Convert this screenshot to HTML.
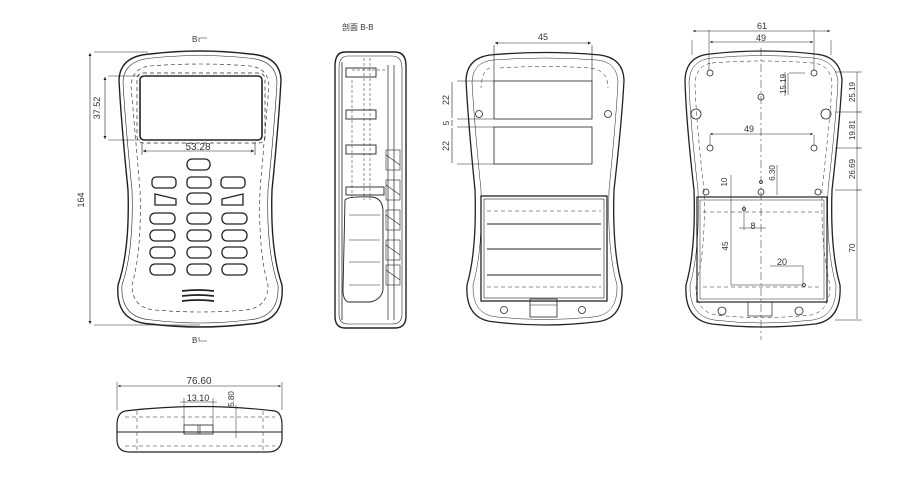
<!DOCTYPE html>
<html><head><meta charset="utf-8"><style>
html,body{margin:0;padding:0;background:#fff;width:900px;height:500px;overflow:hidden}
text{font-family:"Liberation Sans","Noto Sans CJK SC",sans-serif;fill:#333;stroke:none}
</style></head><body>
<svg width="900" height="500" viewBox="0 0 900 500" xmlns="http://www.w3.org/2000/svg" fill="none" stroke="#222" stroke-width="1">
<defs><marker id="a" viewBox="0 0 6 6" refX="6" refY="3" markerWidth="5" markerHeight="5" orient="auto-start-reverse"><path d="M0,0L6,3L0,6z" fill="#222" stroke="none"/></marker></defs>

<!-- FRONT VIEW -->
<path d="M150,54 Q200,48 250,54 Q280,56 281,80 Q279,120 272,190 Q270,250 282,285 Q285,322 250,324 Q200,330 150,324 Q115,322 118,285 Q130,250 128,190 Q121,120 119,80 Q120,56 150,54Z" stroke-width="1.4"/>
<path d="M152,58 Q200,53 248,58 Q276,60 277,82 Q275,120 268,190 Q266,250 278,285 Q280,318 248,320 Q200,326 152,320 Q120,318 122,285 Q134,250 132,190 Q125,120 123,82 Q124,60 152,58Z" stroke-width="0.6"/>
<path d="M150,66 Q200,62 250,66 Q268,68 269,86 Q266,120 260,190 Q258,250 268,285 Q268,308 245,310 Q200,314 155,310 Q132,308 132,285 Q142,250 140,190 Q134,120 131,86 Q132,68 150,66Z" stroke-width="0.6" stroke-dasharray="4,3"/>
<rect x="137" y="73" width="128" height="70" rx="6" stroke-dasharray="4,3" stroke-width="0.7"/>
<rect x="140" y="76" width="122" height="64" rx="4" stroke-width="1.6"/>
<g stroke-width="1.3">
<rect x="187" y="159" width="23" height="11" rx="5"/>
<rect x="152" y="177" width="24" height="11" rx="4"/><rect x="187" y="177" width="24" height="11" rx="4"/><rect x="221" y="177" width="24" height="11" rx="4"/>
<path d="M155,194 L176,199 L176,205 L155,205Z"/><rect x="187" y="193" width="24" height="11" rx="5"/><path d="M243,194 L222,199 L222,205 L243,205Z"/>
<rect x="150" y="213" width="25" height="11" rx="5"/><rect x="187" y="213" width="24" height="11" rx="5"/><rect x="222" y="213" width="25" height="11" rx="5"/>
<rect x="150" y="230" width="25" height="11" rx="5"/><rect x="187" y="230" width="24" height="11" rx="5"/><rect x="222" y="230" width="25" height="11" rx="5"/>
<rect x="150" y="247" width="25" height="11" rx="5"/><rect x="187" y="247" width="24" height="11" rx="5"/><rect x="222" y="247" width="25" height="11" rx="5"/>
<rect x="150" y="264" width="25" height="11" rx="5"/><rect x="187" y="264" width="24" height="11" rx="5"/><rect x="222" y="264" width="25" height="11" rx="5"/>
<path d="M182,291 Q198,289 214,291 M182,296 Q198,294 214,296 M182,301 Q198,299 214,301" stroke-width="1.8"/>
</g>
<g stroke-width="0.6">
<path d="M94,52 H148 M94,325 H200 M108,76 H140 M108,140 H140 M142,142 V155 M255,142 V155"/>
<path d="M90,53 V324" marker-start="url(#a)" marker-end="url(#a)"/>
<path d="M105,77 V139" marker-start="url(#a)" marker-end="url(#a)"/>
<path d="M143,151 H254" marker-start="url(#a)" marker-end="url(#a)"/>
</g>
<text x="84" y="200" font-size="9" transform="rotate(-90 84 200)" text-anchor="middle">164</text>
<text x="100" y="108" font-size="9" transform="rotate(-90 100 108)" text-anchor="middle">37.52</text>
<text x="198" y="150" font-size="10" text-anchor="middle">53.28</text>
<text x="192" y="42" font-size="8">B</text><path d="M199,42 V38 H207" stroke-width="0.6"/>
<text x="192" y="343" font-size="8">B</text><path d="M199,337 V341 H207" stroke-width="0.6"/>

<!-- SECTION B-B -->
<text x="342" y="30" font-size="8">剖面 B-B</text>
<path d="M345,52 H395 Q406,52 406,66 V316 Q406,328 395,328 H345 Q335,328 335,316 V66 Q335,52 345,52Z" stroke-width="1.4"/>
<path d="M348,56 H392 Q402,56 402,68 V314 Q402,324 392,324 H348 Q339,324 339,314 V68 Q339,56 348,56Z" stroke-width="0.6"/>
<path d="M342,62 V320" stroke-width="0.8"/>
<path d="M364,58 V200 M370,58 V200 M352,70 H385 M352,80 V200" stroke-width="0.5" stroke-dasharray="3,2"/>
<g stroke-width="0.9">
<rect x="346" y="68" width="30" height="9"/><rect x="346" y="110" width="30" height="9"/><rect x="346" y="145" width="30" height="9"/><rect x="346" y="187" width="38" height="8"/>
<path d="M345,200 Q348,196 372,197 Q382,198 383,210 V290 Q381,300 370,302 H348 Q343,300 343,290 Z"/>
<path d="M349,215 H380 M349,240 H380 M349,262 H380 M349,285 H380" stroke-width="0.6"/>
<path d="M388,65 V320 M394,65 V320" stroke-width="0.7"/>
</g>
<g stroke-width="0.6">
<rect x="386" y="150" width="14" height="20"/><rect x="386" y="180" width="14" height="20"/><rect x="386" y="210" width="14" height="20"/><rect x="386" y="240" width="14" height="20"/><rect x="386" y="265" width="14" height="20"/>
<path d="M386,155 L400,165 M386,185 L400,195 M386,215 L400,225 M386,245 L400,255 M386,270 L400,280"/>
</g>

<!-- BACK VIEW -->
<path d="M490,55 Q545,50 600,55 Q623,58 624,80 Q622,120 614,190 Q612,250 622,285 Q624,320 595,322 Q545,328 495,322 Q465,320 467,285 Q477,250 475,190 Q468,120 466,80 Q467,58 490,55Z" stroke-width="1.3"/>
<path d="M493,60 Q545,56 597,60 Q617,62 618,82 Q616,120 609,190 Q607,250 617,285 Q618,315 593,317 Q545,322 497,317 Q472,315 473,285 Q483,250 481,190 Q474,120 472,82 Q473,62 493,60Z" stroke-width="0.5"/>
<path d="M500,68 Q545,65 590,68 Q608,70 608,88" stroke-width="0.5" stroke-dasharray="4,3"/>
<path d="M490,68 Q482,70 481,88" stroke-width="0.5" stroke-dasharray="4,3"/>
<rect x="494" y="81" width="98" height="38" stroke-width="0.8"/>
<rect x="494" y="127" width="98" height="37" stroke-width="0.8"/>
<rect x="481" y="196" width="126" height="105" stroke-width="1.3"/>
<rect x="484" y="199" width="120" height="99" stroke-width="0.6"/>
<path d="M487,211 H601 M487,287 H601" stroke-width="0.5" stroke-dasharray="4,3"/>
<path d="M487,224 H601 M487,249 H601 M487,275 H601" stroke-width="1.1"/>
<rect x="530" y="299" width="27" height="18" stroke-width="0.8"/><path d="M530,305 H557" stroke-width="0.6"/>
<g stroke-width="0.8"><circle cx="479" cy="114" r="3.5"/><circle cx="608" cy="114" r="3.5"/><circle cx="504" cy="310" r="3.5"/><circle cx="582" cy="310" r="3.5"/></g>
<g stroke-width="0.6">
<path d="M494,45 V81 M592,45 V81 M457,81 H494 M457,119 H494 M457,127 H494 M457,164 H494"/>
<path d="M495,43 H591" marker-start="url(#a)" marker-end="url(#a)"/>
<path d="M452,82 V118 M452,120 V126 M452,128 V163"/>
</g>
<text x="543" y="40" font-size="9" text-anchor="middle">45</text>
<text x="449" y="100" font-size="9" transform="rotate(-90 449 100)" text-anchor="middle">22</text>
<text x="449" y="123" font-size="8" transform="rotate(-90 449 123)" text-anchor="middle">5</text>
<text x="449" y="146" font-size="9" transform="rotate(-90 449 146)" text-anchor="middle">22</text>

<!-- INTERIOR VIEW -->
<path d="M710,54 Q762,48 815,54 Q840,56 842,80 Q840,120 832,190 Q830,250 840,285 Q842,320 815,324 Q762,330 712,324 Q684,320 686,285 Q696,250 694,190 Q686,120 685,80 Q686,56 710,54Z" stroke-width="1.3"/>
<path d="M712,58 Q762,53 813,58 Q836,60 838,82 Q836,120 828,190 Q826,250 836,285 Q837,316 813,320 Q762,326 714,320 Q689,316 690,285 Q700,250 698,190 Q690,120 689,82 Q690,60 712,58Z" stroke-width="0.5"/>
<path d="M712,63 Q762,59 813,63 Q831,65 832,84 Q830,120 822,190 Q821,250 830,285 Q830,311 811,315 Q762,320 716,315 Q695,311 696,285 Q706,250 704,190 Q696,120 695,84 Q696,65 712,63Z" stroke-width="0.5" stroke-dasharray="4,3"/>
<rect x="697" y="197" width="130" height="105" stroke-width="1.2"/>
<rect x="700" y="200" width="124" height="99" stroke-width="0.5"/>
<path d="M703,212 H820 M703,287 H820" stroke-width="0.5" stroke-dasharray="4,3"/>
<rect x="748" y="302" width="24" height="14" stroke-width="0.7"/>
<path d="M761,48 V340" stroke-width="0.5" stroke-dasharray="8,3,2,3"/>
<g stroke-width="0.8">
<circle cx="710" cy="73" r="3"/><circle cx="814" cy="73" r="3"/><circle cx="761" cy="97" r="3"/><circle cx="696" cy="114" r="5"/><circle cx="826" cy="114" r="5"/>
<circle cx="710" cy="148" r="3"/><circle cx="814" cy="148" r="3"/><circle cx="761" cy="182" r="1.5"/><circle cx="706" cy="192" r="3"/><circle cx="761" cy="192" r="3"/><circle cx="818" cy="192" r="3"/>
<circle cx="722" cy="311" r="4"/><circle cx="799" cy="311" r="4"/><circle cx="744" cy="209" r="1.5"/><circle cx="804" cy="285" r="1.5"/>
</g>
<g stroke-width="0.5">
<path d="M692,55 V40 M831,55 V40 M709,70 V30 M814,70 V30 M785,96 V72 M835,72 H862 M835,112 H862 M835,148 H862 M835,190 H862 M835,320 H862 M710,135 V145 M814,135 V145 M731,175 V285 M744,205 V230"/>
<path d="M693,31 H830" marker-start="url(#a)" marker-end="url(#a)"/>
<path d="M710,42 H813" marker-start="url(#a)" marker-end="url(#a)"/>
<path d="M710,134 H813" marker-start="url(#a)" marker-end="url(#a)"/>
<path d="M788,73 V95 M789,73 H805"/>
<path d="M857,72 V319 M857,112 H860 M857,148 H860 M857,190 H860"/>
<path d="M777,165 V195"/>
<path d="M731,285 H803 M770,266 H803 V285 M739,228 H766"/>
</g>
<text x="762" y="29" font-size="9" text-anchor="middle">61</text>
<text x="761" y="41" font-size="9" text-anchor="middle">49</text>
<text x="749" y="132" font-size="9" text-anchor="middle">49</text>
<text x="786" y="84" font-size="8" transform="rotate(-90 786 84)" text-anchor="middle">15.19</text>
<text x="855" y="92" font-size="8" transform="rotate(-90 855 92)" text-anchor="middle">25.19</text>
<text x="855" y="130" font-size="8" transform="rotate(-90 855 130)" text-anchor="middle">19.81</text>
<text x="855" y="169" font-size="8" transform="rotate(-90 855 169)" text-anchor="middle">26.69</text>
<text x="855" y="248" font-size="8" transform="rotate(-90 855 248)" text-anchor="middle">70</text>
<text x="775" y="173" font-size="8" transform="rotate(-90 775 173)" text-anchor="middle">6.30</text>
<text x="727" y="182" font-size="8" transform="rotate(-90 727 182)" text-anchor="middle">10</text>
<text x="728" y="246" font-size="8" transform="rotate(-90 728 246)" text-anchor="middle">45</text>
<text x="753" y="229" font-size="9" text-anchor="middle">8</text>
<text x="782" y="265" font-size="9" text-anchor="middle">20</text>

<!-- SIDE VIEW -->
<path d="M125,411 Q200,402 275,411 Q282,413 282,425 V440 Q280,452 268,452 H130 Q117,452 117,440 V425 Q117,413 125,411Z" stroke-width="1.2"/>
<path d="M117,432 H282" stroke-width="1.1"/>
<path d="M125,417 H275 M125,446 H275 M137,411 V452 M263,411 V452" stroke-width="0.5" stroke-dasharray="4,3"/>
<rect x="184" y="425" width="29" height="9" stroke-width="0.8"/><path d="M198,425 V434 M200,425 V434" stroke-width="0.6"/>
<g stroke-width="0.5">
<path d="M117,382 V410 M282,382 V410 M184,398 V425 M213,398 V425"/>
<path d="M118,386 H281" marker-start="url(#a)" marker-end="url(#a)"/>
<path d="M180,402 H217"/>
<path d="M236,405 V438"/>
</g>
<text x="199" y="384" font-size="10" text-anchor="middle">76.60</text>
<text x="198" y="401" font-size="9" text-anchor="middle">13.10</text>
<text x="234" y="399" font-size="8" transform="rotate(-90 234 399)" text-anchor="middle">5.80</text>
</svg>
</body></html>
